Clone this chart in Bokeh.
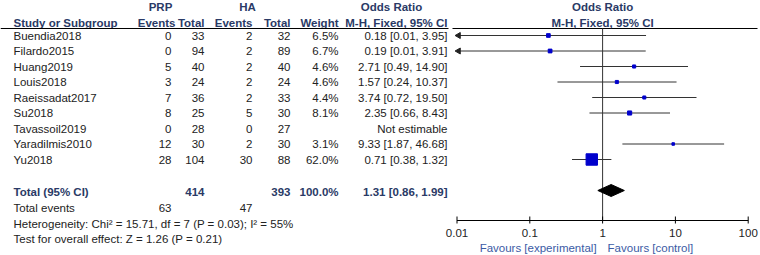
import math
from bokeh.plotting import figure
from bokeh.models import Range1d, ColumnDataSource, LogScale
from bokeh.core.properties import value
from bokeh.embed import file_html
from bokeh.resources import INLINE

# ---------------- data ----------------
studies = ["Buendia2018", "Filardo2015", "Huang2019", "Louis2018", "Raeissadat2017",
           "Su2018", "Tavassoil2019", "Yaradilmis2010", "Yu2018"]
prp_events = [0, 0, 5, 3, 7, 8, 0, 12, 28]
prp_total = [33, 94, 40, 24, 36, 25, 28, 30, 104]
ha_events = [2, 2, 2, 2, 2, 5, 0, 2, 30]
ha_total = [32, 89, 40, 24, 33, 30, 27, 30, 88]
weights = [6.5, 6.7, 4.6, 4.6, 4.4, 8.1, None, 3.1, 62.0]
odds = [0.18, 0.19, 2.71, 1.57, 3.74, 2.35, None, 9.33, 0.71]
ci_low = [0.01, 0.01, 0.49, 0.24, 0.72, 0.66, None, 1.87, 0.38]
ci_high = [3.95, 3.91, 14.90, 10.37, 19.50, 8.43, None, 46.68, 1.32]

total_prp = 414
total_ha = 393
total_weight = 100.0
total_or = 1.31
total_low = 0.86
total_high = 1.99
events_prp = 63
events_ha = 47
heterogeneity = "Heterogeneity: Chi\u00b2 = 15.71, df = 7 (P = 0.03); I\u00b2 = 55%"
overall = "Test for overall effect: Z = 1.26 (P = 0.21)"
ticks = [0.01, 0.1, 1, 10, 100]
tick_labels = ["0.01", "0.1", "1", "10", "100"]
favours_left = "Favours [experimental]"
favours_right = "Favours [control]"

# ---------------- style / layout ----------------
FONT = value("Liberation Sans")
FS = "11.5px"
TXT = "#222222"
HEAD = "#2a3a66"
BLUE_T = "#3b5ba5"
W, H = 760, 255

row_y = [35 + 15.5 * i for i in range(len(studies))]
y_total = 191
y_events = 207
y_het = 223
y_test = 238
y_axis = 220
y_ticklab = 232
y_fav = 247

def fmt_or(o, l, h):
    if o is None:
        return "Not estimable"
    return f"{o:.2f} [{l:.2f}, {h:.2f}]"

p = figure(width=W, height=H, x_range=Range1d(0, W), y_range=Range1d(H, 0),
           output_backend="svg", toolbar_location=None, min_border=0,
           x_axis_location=None, y_axis_location=None)
p.grid.visible = False
p.outline_line_color = None

# log scale for the forest panel: 0.01 at x=456.5, 72.8 px per decade
px_dec = 72.8
log_start = -2 - 456.5 / px_dec
log_end = log_start + W / px_dec
p.extra_x_ranges = {"or": Range1d(10 ** log_start, 10 ** log_end)}
p.extra_x_scales = {"or": LogScale()}

# ---------------- table ----------------
src = ColumnDataSource(dict(
    y=row_y,
    study=studies,
    pe=[str(v) for v in prp_events],
    pt=[str(v) for v in prp_total],
    he=[str(v) for v in ha_events],
    ht=[str(v) for v in ha_total],
    w=["" if w is None else f"{w:.1f}%" for w in weights],
    orr=[fmt_or(o, l, h) for o, l, h in zip(odds, ci_low, ci_high)],
))

def col(x, field, align):
    p.text(x=x, y="y", text=field, source=src, text_align=align, text_baseline="middle",
           text_font=FONT, text_font_size=FS, text_color=TXT)

col(13, "study", "left")
col(171, "pe", "right")
col(204, "pt", "right")
col(252, "he", "right")
col(290, "ht", "right")
col(338, "w", "right")
col(447, "orr", "right")

def t(x, y, s, align="left", bold=False, color=TXT, **kw):
    p.text(x=[x], y=[y], text=[s], text_align=align, text_baseline="middle",
           text_font=FONT, text_font_size=FS, text_color=color,
           text_font_style="bold" if bold else "normal", **kw)

# headers
t(160, 6, "PRP", "center", True, HEAD)
t(247, 6, "HA", "center", True, HEAD)
t(391, 6, "Odds Ratio", "center", True, HEAD)
t(13, 22, "Study or Subgroup", "left", True, HEAD)
t(175, 22, "Events", "right", True, HEAD)
t(204, 22, "Total", "right", True, HEAD)
t(252, 22, "Events", "right", True, HEAD)
t(290, 22, "Total", "right", True, HEAD)
t(338, 22, "Weight", "right", True, HEAD)
t(447, 22, "M-H, Fixed, 95% CI", "right", True, HEAD)
p.segment(x0=[0, 452], x1=[448, 757], y0=[28, 28], y1=[28, 28], line_color="black", line_width=1)

# totals
t(13, y_total, "Total (95% CI)", "left", True, HEAD)
t(204, y_total, str(total_prp), "right", True, HEAD)
t(290, y_total, str(total_ha), "right", True, HEAD)
t(338, y_total, f"{total_weight:.1f}%", "right", True, HEAD)
t(447, y_total, fmt_or(total_or, total_low, total_high), "right", True, HEAD)
t(13, y_events, "Total events")
t(171, y_events, str(events_prp), "right")
t(252, y_events, str(events_ha), "right")
t(13, y_het, heterogeneity)
t(13, y_test, overall)

# ---------------- forest panel (log scale) ----------------
R = "or"
# null line
p.segment(x0=[1], x1=[1], y0=[28], y1=[y_axis], line_color="#333333", line_width=1, x_range_name=R)

est = [i for i, o in enumerate(odds) if o is not None]
fsrc = ColumnDataSource(dict(
    y=[row_y[i] for i in est],
    o=[odds[i] for i in est],
    lo=[ci_low[i] for i in est],
    hi=[ci_high[i] for i in est],
    size=[1.45 * math.sqrt(weights[i]) for i in est],
))
p.segment(x0="lo", x1="hi", y0="y", y1="y", source=fsrc, line_color="#333333",
          line_width=1, x_range_name=R)
p.scatter(x="o", y="y", size="size", marker="square", source=fsrc,
          fill_color="#0000cc", line_color="#0000cc", x_range_name=R)

arr = [i for i in est if ci_low[i] <= ticks[0]]
p.scatter(x=[ci_low[i] * 1.05 for i in arr], y=[row_y[i] for i in arr], marker="triangle",
          angle=math.pi / 2, size=6, fill_color="#222222", line_color="#222222", x_range_name=R)

p.patch(x=[total_low, total_or, total_high, total_or],
        y=[y_total - 1, y_total - 7, y_total - 1, y_total + 5],
        fill_color="black", line_color="black", x_range_name=R)

for s, y in [("Odds Ratio", 6), ("M-H, Fixed, 95% CI", 22)]:
    p.text(x=[1], y=[y], text=[s], text_align="center", text_baseline="middle",
           text_font=FONT, text_font_size=FS, text_color=HEAD, text_font_style="bold",
           x_range_name=R)

# axis (drawn on the log scale)
p.segment(x0=[ticks[0]], x1=[ticks[-1]], y0=[y_axis], y1=[y_axis], line_color="black",
          line_width=1, x_range_name=R)
p.segment(x0=ticks, x1=ticks, y0=[y_axis - 4] * len(ticks), y1=[y_axis + 3] * len(ticks),
          line_color="black", line_width=1, x_range_name=R)
p.text(x=ticks, y=[y_ticklab] * len(ticks), text=tick_labels, text_align="center",
       text_baseline="middle", text_font=FONT, text_font_size=FS, text_color=TXT, x_range_name=R)

p.text(x=[1], y=[y_fav], text=[favours_left], x_offset=-6, text_align="right",
       text_baseline="middle", text_font=FONT, text_font_size=FS, text_color=BLUE_T, x_range_name=R)
p.text(x=[1], y=[y_fav], text=[favours_right], x_offset=5, text_align="left",
       text_baseline="middle", text_font=FONT, text_font_size=FS, text_color=BLUE_T, x_range_name=R)

open("out.html", "w").write(file_html(p, INLINE))
